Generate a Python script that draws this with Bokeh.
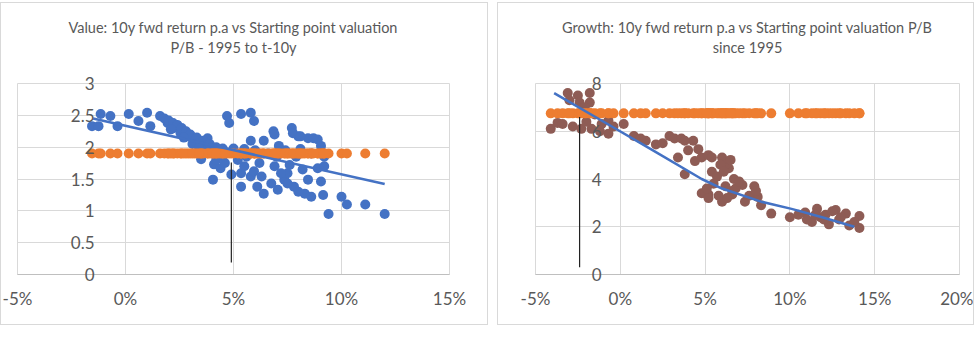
from bokeh.plotting import figure
from bokeh.layouts import row
from bokeh.models import Range1d, FixedTicker, LinearAxis, ColumnDataSource, Title
from bokeh.embed import file_html
from bokeh.resources import INLINE

# ---------------- data ----------------
x_ticks = [-5, 0, 5, 10, 15, 20]
x_tick_labels = ["-5%", "0%", "5%", "10%", "15%", "20%"]

value_title = ["Value: 10y fwd return p.a vs Starting point valuation", "P/B - 1995 to t-10y"]
value_y_ticks = [0, 0.5, 1, 1.5, 2, 2.5, 3]
value_y_labels = ["0", "0.5", "1", "1.5", "2", "2.5", "3"]
value_x = [-1.55, -1.25, -1.15, -0.7, -0.37, 0.15, 0.6, 1.0, 1.15, 1.6, 1.95, 2.25, 2.55, 2.9, 3.2,
           3.5, 3.8, 3.8, 3.5, 4.1, 4.05, 4.4, 4.7, 4.8, 5.35, 5.8, 5.95, 6.85, 7.7, 8.0, 8.45, 8.9,
           9.05, 5.8, 6.4, 7.1, 8.1, 4.9, 5.35, 5.8, 6.1, 6.4, 6.75, 7.05, 7.35, 7.5, 7.8, 8.3, 8.6,
           8.45, 8.9, 9.2, 9.05, 9.15, 9.4, 10.0, 10.25, 11.1, 12.0, 5.35, 5.95, 6.3, 7.2, 7.5, 8.0,
           4.5, 5.0, 5.5, 1.8, 2.0, 2.2, 2.4, 2.6, 2.8, 3.0, 3.3, 3.6, 3.9, 4.2, 4.5, 2.1, 2.7, 3.1,
           3.4, 4.0, 4.3, 4.2, 4.6, 5.6, 6.0, 6.6, 7.0, 7.4, 7.9, 8.6, 9.2, 6.2, 6.9, 7.6, 8.2, 5.2,
           5.5, 7.75, 8.1, 8.7, 6.9]
value_y = [2.33, 2.33, 2.52, 2.49, 2.33, 2.52, 2.41, 2.54, 2.33, 2.49, 2.38, 2.3, 2.22, 2.17, 2.12,
           2.07, 2.14, 1.98, 1.81, 1.73, 1.49, 1.67, 2.49, 2.38, 2.52, 2.54, 2.41, 2.25, 2.3, 2.17,
           2.14, 2.12, 2.02, 2.1, 2.1, 2.02, 1.97, 1.57, 1.38, 1.54, 1.38, 1.27, 1.43, 1.33, 1.49,
           1.59, 1.38, 1.27, 1.22, 1.49, 1.67, 1.7, 1.46, 1.25, 0.95, 1.22, 1.1, 1.1, 0.95, 1.59,
           1.62, 1.54, 1.59, 1.43, 1.3, 1.86, 1.98, 1.97, 2.45, 2.42, 2.38, 2.35, 2.3, 2.25, 2.2,
           2.15, 2.1, 2.05, 2.0, 1.98, 2.28, 2.15, 2.05, 2.0, 1.92, 1.88, 1.8, 1.75, 1.85, 1.95,
           1.9, 1.85, 1.95, 1.85, 1.9, 1.85, 1.75, 1.7, 1.72, 1.65, 1.8, 1.7, 2.22, 2.17, 2.14, 2.2]
value_avg_pb = 1.9
value_trend_x = [-1.5, 12.0]
value_trend_y = [2.45, 1.42]
value_marker_x = [4.9, 4.9]
value_marker_y = [0.19, 1.76]

growth_title = ["Growth: 10y fwd return p.a vs Starting point valuation P/B", "since 1995"]
growth_y_ticks = [0, 2, 4, 6, 8]
growth_y_labels = ["0", "2", "4", "6", "8"]
growth_x = [-4.1, -3.7, -3.1, -2.8, -2.5, -2.4, -2.3, -1.8, -1.8, -1.7, -1.2, -1.1, -0.7, -0.7, 0.2,
            0.8, 1.5, 2.1, 2.9, 3.2, 3.6, 4.3, 3.8, 3.4, 4.0, 4.4, 4.8, 5.2, 4.8, 5.2, 5.8, 5.4, 6.0,
            6.4, 6.7, 6.6, 5.0, 5.2, 6.0, 6.6, 7.2, 7.35, 7.9, 8.1, 8.3, 8.9, 10.0, 10.9, 11.3, 11.6,
            12.1, 12.3, 12.7, 12.9, 13.3, 13.5, 14.1, 14.1, 3.8, 4.6, 5.4, 6.2, 1.2, 2.5, -3.4, -2.0,
            -1.5, -0.4, -3.0, -2.1, 5.5, 5.7, 6.2, 6.8, 7.0, 5.1, 6.3, 7.6, 8.0, 5.9, 6.1, 6.5, 11.0,
            11.8, 12.5, 13.0, 13.8, 11.5, 12.0, 10.5]
growth_y = [6.1, 6.35, 7.6, 6.2, 7.5, 7.2, 6.1, 7.6, 7.2, 6.1, 6.0, 6.3, 5.9, 6.45, 6.3, 5.8, 5.6,
            5.45, 5.8, 5.7, 5.7, 5.6, 4.2, 4.9, 5.2, 4.75, 4.9, 5.0, 3.4, 3.35, 3.3, 4.3, 4.9, 4.45,
            4.0, 3.35, 3.4, 3.2, 3.05, 3.5, 3.75, 3.05, 3.7, 3.25, 2.9, 2.55, 2.4, 2.6, 2.2, 2.75,
            2.5, 2.1, 2.7, 2.3, 2.55, 2.05, 1.95, 2.45, 5.6, 5.25, 4.9, 4.6, 5.7, 5.5, 6.3, 6.4, 6.7,
            6.2, 7.3, 7.0, 3.8, 4.1, 3.7, 3.6, 3.9, 3.6, 3.2, 3.3, 3.5, 4.6, 4.3, 4.8, 2.3, 2.4,
            2.65, 2.4, 2.2, 2.5, 2.3, 2.5]
growth_avg_pb = 6.75
growth_trend_x = [-3.9, -0.5, 1.8, 4.8, 6.0, 8.3, 10.1, 11.9, 13.8]
growth_trend_y = [7.6, 6.2, 5.25, 4.0, 3.6, 3.05, 2.75, 2.4, 2.0]
growth_marker_x = [-2.4, -2.4]
growth_marker_y = [0.3, 6.6]

# ---------------- styling ----------------
BLUE = "#4472C4"
ORANGE = "#ED7D31"
BROWN = "#8E5C55"
GRID = "#D9D9D9"
TXT = "#595959"
FONT = "Lato"


def make_panel(title_lines, xs, ys, avg, trend_x, trend_y, mk_x, mk_y, x_end, y_end,
               y_ticks, y_labels, pt_color, width, border_left, border_right, ylab_shift):
    p = figure(width=width, height=323, output_backend="svg", toolbar_location=None,
               title=None,
               x_range=Range1d(-5, x_end), y_range=Range1d(0, y_end),
               min_border_left=border_left, min_border_right=border_right,
               min_border_top=80, min_border_bottom=52,
               x_axis_location=None, y_axis_location=None,
               styles={"border": "1px solid #D9D9D9"})
    p.outline_line_color = GRID

    # second title line: label of a tick-less axis above the frame
    ta = LinearAxis(ticker=FixedTicker(ticks=[]), axis_label=title_lines[1])
    ta.axis_line_color = None
    ta.major_tick_line_color = None
    ta.minor_tick_line_color = None
    ta.axis_label_text_font = FONT
    ta.axis_label_text_font_size = "14.5px"
    ta.axis_label_text_font_style = "normal"
    ta.axis_label_text_color = TXT
    ta.axis_label_standoff = 28
    p.add_layout(ta, "above")
    # first title line
    p.add_layout(Title(text=title_lines[0], align="center", text_font=FONT,
                       text_font_size="14.5px", text_font_style="normal",
                       text_color=TXT, standoff=0), "above")

    xa = LinearAxis(ticker=FixedTicker(ticks=[t for t in x_ticks if t <= x_end]),
                    major_label_overrides={t: l for t, l in zip(x_ticks, x_tick_labels)})
    xa.axis_line_color = "#BFBFBF"
    xa.major_tick_line_color = None
    xa.minor_tick_line_color = None
    xa.major_label_text_font = FONT
    xa.major_label_text_font_size = "17px"
    xa.major_label_text_color = TXT
    xa.major_label_standoff = 7
    p.add_layout(xa, "below")

    # vertical axis crosses the horizontal one at 0%: labels pulled in beside the 0% gridline
    ya = LinearAxis(ticker=FixedTicker(ticks=y_ticks),
                    major_label_overrides={t: l for t, l in zip(y_ticks, y_labels)})
    ya.axis_line_color = None
    ya.major_tick_line_color = None
    ya.minor_tick_line_color = None
    ya.major_label_text_font = FONT
    ya.major_label_text_font_size = "17px"
    ya.major_label_text_color = TXT
    ya.major_label_standoff = -ylab_shift
    p.add_layout(ya, "left")

    p.xgrid.ticker = FixedTicker(ticks=x_ticks)
    p.ygrid.ticker = FixedTicker(ticks=y_ticks)
    p.xgrid.grid_line_color = GRID
    p.ygrid.grid_line_color = GRID

    src = ColumnDataSource(dict(x=xs, y=ys, avg=[avg] * len(xs)))
    p.scatter("x", "y", source=src, size=10, color=pt_color, line_color=None)
    p.scatter("x", "avg", source=src, size=10, color=ORANGE, line_color=None)
    p.line(trend_x, trend_y, line_color=BLUE, line_width=2.5)
    p.line(mk_x, mk_y, line_color="#222222", line_width=1.2)
    return p


p1 = make_panel(value_title, value_x, value_y, value_avg_pb, value_trend_x, value_trend_y,
                value_marker_x, value_marker_y, 15, 3, value_y_ticks, value_y_labels, BLUE,
                488, 16, 40, 83)
p2 = make_panel(growth_title, growth_x, growth_y, growth_avg_pb, growth_trend_x, growth_trend_y,
                growth_marker_x, growth_marker_y, 20, 8, growth_y_ticks, growth_y_labels, BROWN,
                477, 37, 16, 72)

layout = row(p1, p2, spacing=9, margin=(2, 0, 0, 0))
open("out.html", "w").write(file_html(layout, INLINE))
